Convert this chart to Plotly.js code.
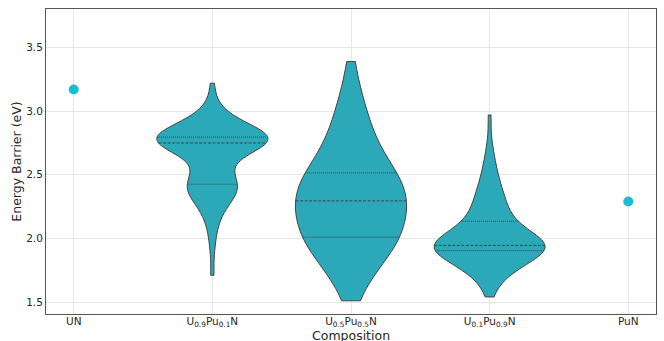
<!DOCTYPE html>
<html>
<head>
<meta charset="utf-8">
<script src="https://cdn.plot.ly/plotly-3.0.1.min.js"></script>
<style>
html,body{margin:0;padding:0;background:#ffffff;}
#chart{width:664px;height:341px;}
</style>
</head>
<body>
<div id="chart"></div>
<script>
// ---------------- data ----------------
const categories = ['UN', 'U0.9Pu0.1N', 'U0.5Pu0.5N', 'U0.1Pu0.9N', 'PuN'];
const tickLabels = ['UN', 'U<sub>0.9</sub>Pu<sub>0.1</sub>N', 'U<sub>0.5</sub>Pu<sub>0.5</sub>N', 'U<sub>0.1</sub>Pu<sub>0.9</sub>N', 'PuN'];
const positions = [0, 1, 2, 3, 4];
const yTicks = [1.5, 2.0, 2.5, 3.0, 3.5];
const xTitle = 'Composition';
const yTitle = 'Energy Barrier (eV)';

// single-value end members
const unBarrier = [3.17];
const punBarrier = [2.29];

// barrier samples of the mixed compositions (eV)
const u09pu01n = [1.71, 1.93, 2.04, 2.12, 2.17, 2.21, 2.24, 2.27, 2.29, 2.31,
                  2.33, 2.345, 2.36, 2.37, 2.38, 2.39, 2.40, 2.405, 2.41, 2.415,
                  2.43, 2.44, 2.45, 2.47, 2.49, 2.51, 2.53, 2.56, 2.59, 2.61,
                  2.63, 2.65, 2.67, 2.69, 2.70, 2.71, 2.72, 2.73, 2.74, 2.75,
                  2.75, 2.75, 2.755, 2.76, 2.76, 2.765, 2.77, 2.77, 2.775, 2.775,
                  2.78, 2.78, 2.78, 2.785, 2.785, 2.79, 2.79, 2.79, 2.795, 2.795,
                  2.80, 2.80, 2.81, 2.81, 2.82, 2.83, 2.84, 2.85, 2.86, 2.87,
                  2.88, 2.89, 2.90, 2.91, 2.93, 2.95, 2.97, 3.00, 3.06, 3.22];
const u05pu05n = [1.51, 1.60, 1.66, 1.71, 1.75, 1.78, 1.81, 1.835, 1.86, 1.88,
                  1.90, 1.915, 1.93, 1.945, 1.955, 1.965, 1.975, 1.985, 1.99, 1.995,
                  2.015, 2.03, 2.045, 2.06, 2.075, 2.09, 2.105, 2.12, 2.135, 2.15,
                  2.165, 2.18, 2.195, 2.21, 2.225, 2.24, 2.255, 2.265, 2.28, 2.29,
                  2.30, 2.31, 2.32, 2.33, 2.345, 2.355, 2.37, 2.38, 2.395, 2.405,
                  2.42, 2.43, 2.445, 2.455, 2.47, 2.48, 2.49, 2.50, 2.505, 2.51,
                  2.53, 2.55, 2.58, 2.61, 2.64, 2.67, 2.70, 2.73, 2.76, 2.79,
                  2.82, 2.86, 2.89, 2.93, 2.97, 3.02, 3.07, 3.13, 3.22, 3.39];
const u01pu09n = [1.54, 1.64, 1.68, 1.71, 1.73, 1.745, 1.76, 1.77, 1.78, 1.79,
                  1.80, 1.81, 1.82, 1.835, 1.85, 1.86, 1.87, 1.88, 1.89, 1.90,
                  1.905, 1.91, 1.91, 1.915, 1.92, 1.92, 1.925, 1.925, 1.93, 1.93,
                  1.93, 1.935, 1.935, 1.94, 1.94, 1.94, 1.94, 1.945, 1.945, 1.945,
                  1.945, 1.95, 1.955, 1.96, 1.965, 1.97, 1.98, 1.99, 2.00, 2.01,
                  2.02, 2.035, 2.05, 2.065, 2.08, 2.09, 2.10, 2.11, 2.12, 2.13,
                  2.15, 2.17, 2.19, 2.21, 2.23, 2.25, 2.27, 2.29, 2.31, 2.33,
                  2.35, 2.38, 2.41, 2.44, 2.48, 2.52, 2.57, 2.64, 2.72, 2.97];

// ---------------- style ----------------
const fillColor = '#2ca9b8';
const lineColor = '#444444';
const pointColor = '#17becf';
const violinWidth = 0.8;

const violins = [
  {pos: 1, name: categories[1], vals: u09pu01n, bw: 0.10},
  {pos: 2, name: categories[2], vals: u05pu05n, bw: 0.20},
  {pos: 3, name: categories[3], vals: u01pu09n, bw: 0.11}
];

function percentile(arr, p) {
  const s = arr.slice().sort((a, b) => a - b);
  const pos = p * (s.length - 1);
  const lo = Math.floor(pos);
  const hi = Math.min(lo + 1, s.length - 1);
  return s[lo] + (pos - lo) * (s[hi] - s[lo]);
}
function kde(vals, bw, y) {
  let sum = 0;
  for (const v of vals) { const z = (y - v) / bw; sum += Math.exp(-0.5 * z * z); }
  return sum;
}
function maxKde(vals, bw) {
  const lo = Math.min(...vals), hi = Math.max(...vals);
  const n = Math.ceil((hi - lo) / (bw / 3));
  const step = (hi - lo) / n;
  let m = 0;
  for (let k = 0; k <= n; k++) m = Math.max(m, kde(vals, bw, lo + k * step));
  return m;
}

const traces = [];
violins.forEach(v => {
  traces.push({
    type: 'violin', x0: v.pos, y: v.vals, name: v.name,
    width: violinWidth, scalemode: 'width', spanmode: 'hard', bandwidth: v.bw,
    points: false, box: {visible: false}, meanline: {visible: false},
    fillcolor: fillColor, opacity: 1,
    line: {color: lineColor, width: 1},
    hoverinfo: 'skip', showlegend: false
  });
});
violins.forEach(v => {
  const mk = maxKde(v.vals, v.bw);
  [0.25, 0.5, 0.75].forEach(p => {
    const q = percentile(v.vals, p);
    const hw = violinWidth / 2 * kde(v.vals, v.bw, q) / mk;
    traces.push({
      type: 'scatter', mode: 'lines', x: [v.pos - hw, v.pos + hw], y: [q, q],
      line: {color: lineColor, width: 1, dash: p === 0.5 ? '3px,1.5px' : '1px,1px'},
      hoverinfo: 'skip', showlegend: false
    });
  });
});
traces.push({type: 'scatter', mode: 'markers', x: [positions[0]], y: unBarrier, name: categories[0],
  marker: {color: pointColor, size: 10}, hoverinfo: 'skip', showlegend: false});
traces.push({type: 'scatter', mode: 'markers', x: [positions[4]], y: punBarrier, name: categories[4],
  marker: {color: pointColor, size: 10}, hoverinfo: 'skip', showlegend: false});

const layout = {
  width: 664, height: 341,
  margin: {l: 46, r: 8, t: 9, b: 27, pad: 0},
  paper_bgcolor: '#ffffff', plot_bgcolor: '#ffffff',
  font: {family: 'DejaVu Sans, sans-serif', size: 10.5, color: '#262626'},
  showlegend: false,
  violinmode: 'overlay',
  xaxis: {
    range: [-0.2, 4.2], tickvals: positions, ticktext: tickLabels,
    showgrid: true, gridcolor: '#e6e6e6', gridwidth: 1, zeroline: false,
    showline: true, mirror: true, linecolor: '#555555', linewidth: 1,
    ticks: '', ticklabelstandoff: -3, automargin: false
  },
  yaxis: {
    range: [1.406, 3.803], tickvals: yTicks, tickformat: '.1f',
    showgrid: true, gridcolor: '#e6e6e6', gridwidth: 1, zeroline: false,
    showline: true, mirror: true, linecolor: '#555555', linewidth: 1,
    ticks: '', automargin: false,
    title: {text: yTitle, font: {size: 12.5}, standoff: 1}
  },
  annotations: [{
    text: xTitle, xref: 'paper', yref: 'paper', x: 0.5, y: -0.072,
    xanchor: 'center', yanchor: 'middle', showarrow: false,
    font: {size: 12.5, color: '#262626'}
  }]
};

Plotly.newPlot('chart', traces, layout, {staticPlot: true, displayModeBar: false});
</script>
</body>
</html>
